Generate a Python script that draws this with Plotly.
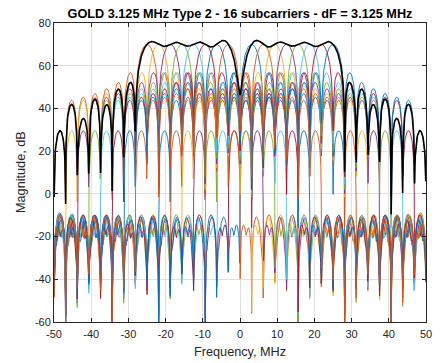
import numpy as np
import plotly.graph_objects as go

# ---------------- data ----------------
title_text = "GOLD 3.125 MHz Type 2 - 16 subcarriers - dF = 3.125 MHz"
subcarrier_spacing_mhz = 3.125
# subcarrier centre frequencies (MHz), in plotting order (FFT order)
subcarrier_freqs = [3.125, 6.25, 9.375, 12.5, 15.625, 18.75, 21.875, 25.0,
                    -25.0, -21.875, -18.75, -15.625, -12.5, -9.375, -6.25, -3.125]
# main-lobe peak level of every subcarrier (dB)
subcarrier_peaks_db = [70, 70, 70, 70, 70, 70, 70, 70,
                       70, 70, 70, 70, 70, 70, 70, 70]
# residual carrier at DC seen in the composite notch (dB)
dc_leak_db = 46
# spectral mask of each subcarrier (offsets from its centre, MHz / attenuation dB)
full_sidelobe_edge = 21.875
transition_edge = 25.0
transition_atten_db = 13
floor_atten_db = 51
floor_atten_slope = 0.2
floor_ripple_period = 4.1

x_tick_values = [-50, -40, -30, -20, -10, 0, 10, 20, 30, 40, 50]
x_tick_labels = ["-50", "-40", "-30", "-20", "-10", "0", "10", "20", "30", "40", "50"]
y_tick_values = [-60, -40, -20, 0, 20, 40, 60, 80]
y_tick_labels = ["-60", "-40", "-20", "0", "20", "40", "60", "80"]

matlab_colors = ["#0072BD", "#D95319", "#EDB120", "#7E2F8E",
                 "#77AC30", "#4DBEEE", "#A2142F"]

# ---------------- spectrum model ----------------
freq = -50 + 0.03 + 0.1 * np.arange(1000)


def mask(delta):
    a = np.abs(delta)
    db = np.zeros_like(a)
    db[(a > full_sidelobe_edge) & (a <= transition_edge)] = -transition_atten_db
    fl = a > transition_edge
    ripple = 0.3 + 0.7 * np.abs(np.cos(np.pi * a[fl] / floor_ripple_period))
    db[fl] = -floor_atten_db + floor_atten_slope * (a[fl] - transition_edge) \
        + 20 * np.log10(ripple)
    return 10 ** (db / 20)


def subcarrier_amp(fc, peak_db):
    d = freq - fc
    return 10 ** (peak_db / 20) * np.sinc(d / subcarrier_spacing_mhz) * mask(d)


fig = go.Figure()
composite = np.zeros_like(freq)
for i, (fc, pk) in enumerate(zip(subcarrier_freqs, subcarrier_peaks_db)):
    amp = subcarrier_amp(fc, pk)
    composite = composite + amp
    fig.add_trace(go.Scatter(
        x=freq, y=20 * np.log10(np.abs(amp) + 1e-12), mode="lines",
        line=dict(color=matlab_colors[i % 7], width=0.9),
        showlegend=False, hoverinfo="skip"))

composite = composite + subcarrier_amp(0.0, dc_leak_db)
fig.add_trace(go.Scatter(
    x=freq, y=20 * np.log10(np.abs(composite) + 1e-12), mode="lines",
    line=dict(color="#000000", width=1.6), showlegend=False, hoverinfo="skip"))

FONT = "Liberation Sans, Arial, Helvetica"
axis_common = dict(
    showgrid=True, gridcolor="#e0e0e0", gridwidth=1,
    showline=True, linecolor="#262626", linewidth=1, mirror="ticks",
    ticks="inside", ticklen=4, tickcolor="#262626", zeroline=False,
    tickfont=dict(family=FONT, size=11, color="#262626"),
)

# page body has an 8px default margin: figure is sized/offset to compensate
PAGE_OFF = 8
W, H = 441 - PAGE_OFF, 363 - PAGE_OFF
fig.update_layout(
    width=W, height=H,
    margin=dict(l=54 - PAGE_OFF, r=9, t=23 - PAGE_OFF, b=41),
    paper_bgcolor="white", plot_bgcolor="white",
    xaxis=dict(range=[-50, 50], tickvals=x_tick_values, ticktext=x_tick_labels,
               ticklabelstandoff=2, **axis_common),
    yaxis=dict(range=[-60, 80], tickvals=y_tick_values, ticktext=y_tick_labels,
               **axis_common),
    title=dict(text="<b>" + title_text + "</b>", x=0.5, xref="paper",
               y=1 - (14 - PAGE_OFF) / H, yref="container", yanchor="middle",
               font=dict(family=FONT, size=12.7, color="#000000")),
    annotations=[
        dict(text="Frequency, MHz", x=0.5, xref="paper",
             y=-(352 - 322) / 299, yref="paper", yanchor="middle",
             showarrow=False, font=dict(family=FONT, size=12.7, color="#262626")),
        dict(text="Magnitude, dB", x=-(54 - 20) / 378, xref="paper", xanchor="center",
             y=0.5, yref="paper", textangle=-90, showarrow=False,
             font=dict(family=FONT, size=12.7, color="#262626")),
    ],
)

fig.write_html("out.html")
